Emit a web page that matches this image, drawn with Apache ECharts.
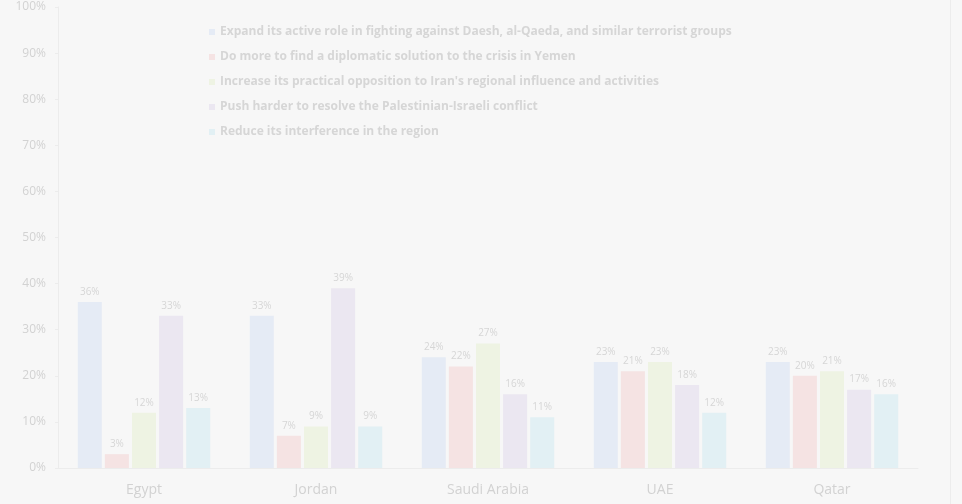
<!DOCTYPE html>
<html>
<head>
<meta charset="utf-8">
<script src="https://cdn.jsdelivr.net/npm/echarts@6/dist/echarts.min.js"></script>
<style>
  html, body { margin: 0; padding: 0; background: #f7f7f7; }
  #chart { width: 962px; height: 504px; }
</style>
</head>
<body>
<div id="chart"></div>
<script>
// Countries on the category axis
const countries = ['Egypt', 'Jordan', 'Saudi Arabia', 'UAE', 'Qatar'];

// Survey options (one series each)
const optionNames = [
  'Expand its active role in fighting against Daesh, al-Qaeda, and similar terrorist groups',
  'Do more to find a diplomatic solution to the crisis in Yemen',
  "Increase its practical opposition to Iran's regional influence and activities",
  'Push harder to resolve the Palestinian-Israeli conflict',
  'Reduce its interference in the region'
];

// Share of respondents (%) per option, in country order
const expandRole   = [36, 33, 24, 23, 23];
const yemen        = [3, 7, 22, 21, 20];
const iran         = [12, 9, 27, 23, 21];
const palestine    = [33, 39, 16, 18, 17];
const reduce       = [13, 9, 11, 12, 16];

const yTicks = { min: 0, max: 100, interval: 10 };

const seriesValues = [expandRole, yemen, iran, palestine, reduce];
const palette = ['#e5ebf5', '#f5e3e3', '#eef3e3', '#ebe7f1', '#e2f0f4'];

const chart = echarts.init(document.getElementById('chart'));
chart.setOption({
  backgroundColor: '#f7f7f7',
  animation: false,
  color: palette,
  graphic: [{
    // faint frame edge on the right
    type: 'line',
    shape: { x1: 950.5, y1: 0, x2: 950.5, y2: 504 },
    style: { stroke: '#ececec', lineWidth: 1 },
    silent: true
  }],
  legend: {
    orient: 'vertical',
    left: 204,
    top: 21,
    itemWidth: 6,
    itemHeight: 6,
    itemGap: 13,
    icon: 'rect',
    textStyle: { color: '#d6d6d6', fontSize: 12, fontWeight: 'bold', fontFamily: 'Open Sans' },
    data: optionNames
  },
  grid: { left: 58, right: 44, top: 7, bottom: 36 },
  xAxis: {
    type: 'category',
    data: countries,
    axisLine: { lineStyle: { color: '#ececec' } },
    axisTick: { lineStyle: { color: '#ececec' }, length: 4 },
    axisLabel: { color: '#d2d2d2', fontSize: 14, margin: 15, fontFamily: 'Open Sans' }
  },
  yAxis: {
    type: 'value',
    min: yTicks.min,
    max: yTicks.max,
    interval: yTicks.interval,
    axisLine: { show: true, lineStyle: { color: '#ececec' } },
    axisTick: { show: true, length: 3, lineStyle: { color: '#ececec' } },
    splitLine: { show: false },
    axisLabel: { color: '#d2d2d2', fontSize: 12, margin: 12, formatter: '{value}%', fontFamily: 'Open Sans' }
  },
  series: seriesValues.map((vals, i) => ({
    name: optionNames[i],
    type: 'bar',
    data: vals,
    barGap: '13%',
    barCategoryGap: '23%',
    label: {
      show: true,
      position: 'top',
      distance: 5,
      formatter: '{c}%',
      color: '#d6d6d6',
      fontSize: 10,
      fontFamily: 'Open Sans'
    }
  }))
});
</script>
</body>
</html>
